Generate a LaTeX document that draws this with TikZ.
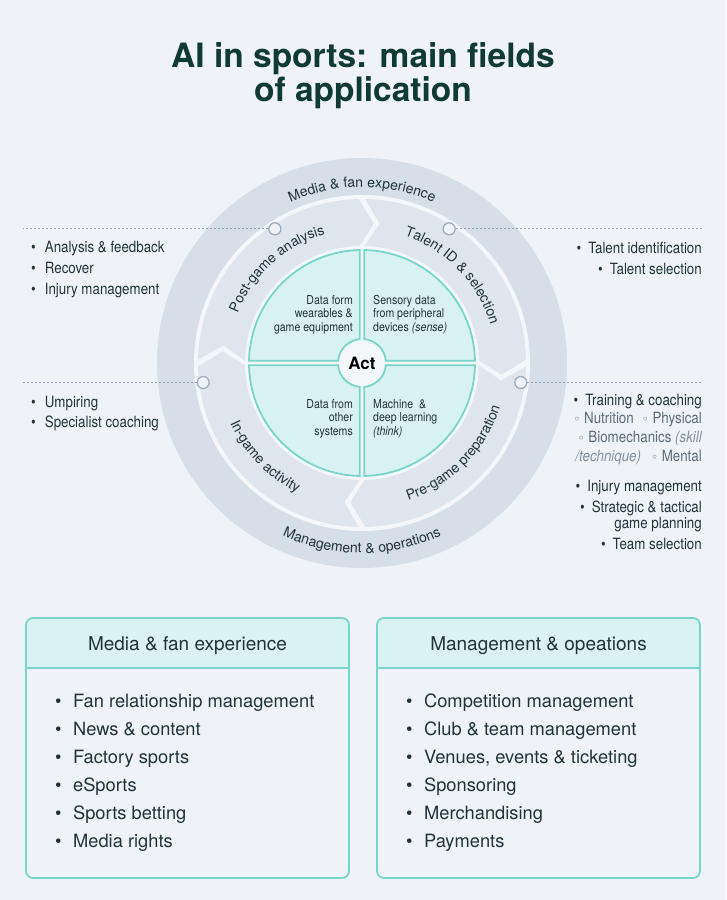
\documentclass[tikz,border=0pt]{standalone}
\usepackage{fontspec}
\setmainfont{TeX Gyre Heros}
\newfontfamily\narrowfont{TeX Gyre Heros}[FakeStretch=0.86]
\newfontfamily\symfont{DejaVu Sans}
\usetikzlibrary{calc, decorations.text}

\definecolor{pagebg}{RGB}{239,243,248}
\definecolor{bandgrey}{RGB}{214,222,231}
\definecolor{ringgrey}{RGB}{223,229,237}
\definecolor{gapwhite}{RGB}{244,247,250}
\definecolor{tealfill}{RGB}{216,242,241}
\definecolor{tealline}{RGB}{120,213,201}
\definecolor{headfill}{RGB}{216,243,241}
\definecolor{inkdark}{RGB}{32,52,56}
\definecolor{titleink}{RGB}{16,58,52}
\definecolor{subgrey}{RGB}{92,108,118}
\definecolor{softgrey}{RGB}{130,144,156}
\definecolor{dotgrey}{RGB}{150,166,182}
\definecolor{pingrey}{RGB}{160,174,188}

\newcommand\titlesize{\fontsize{33.5}{38}\selectfont\bfseries}
\newcommand\listsize{\narrowfont\fontsize{15.5}{18}\selectfont}
\newcommand\quadsize{\narrowfont\fontsize{12.3}{13.6}\selectfont}
\newcommand\ringsize{\fontsize{14}{16}\selectfont}
\newcommand\boxsize{\fontsize{18.3}{22}\selectfont}
\newcommand\subdot{{\symfont\fontsize{12}{12}\selectfont ◦}}

\tikzset{
    titletext/.style={font=\titlesize, text=titleink, anchor=base, inner sep=0pt},
    listtext/.style={font=\listsize, text=inkdark, inner sep=0pt},
    subtext/.style={font=\listsize, text=subgrey, inner sep=0pt, anchor=base east},
    quadtext/.style={font=\quadsize, text=inkdark, inner sep=0pt},
    boxitem/.style={font=\boxsize, text=inkdark, inner sep=0pt, anchor=base west},
    headtext/.style={font=\fontsize{19}{22}\selectfont, text=inkdark, inner sep=0pt,
        anchor=base},
    pin/.style={circle, draw=pingrey, fill=pagebg, line width=1.3pt,
        minimum size=12pt, inner sep=0pt},
    dotline/.style={draw=dotgrey, line width=0.9pt, dash pattern=on 2pt off 2pt},
    quadrant/.style={fill=tealfill, draw=tealline, line width=1.8pt},
    actdisc/.style={circle, fill=gapwhite, minimum size=40pt, inner sep=0pt,
        font=\fontsize{17}{17}\selectfont\bfseries, text=black},
    ringlabel/.style={decorate, decoration={text along path, text align=center,
        text color=inkdark, text={|\ringsize|#1}}},
    panel/.style={draw=tealline, line width=1.8pt, rounded corners=7pt},
}

\begin{document}
\begin{tikzpicture}[x=1pt, y=1pt]
\fill[pagebg] (0,0) rectangle (726,-900);
\useasboundingbox (0,0) rectangle (726,-900);

% title
\node[titletext] (title1) at (363,-67) {AI in sports: main fields};
\node[titletext] (title2) at (363,-101) {of application};

% wheel
\coordinate (hub) at (362,-363);
\coordinate (leftedge) at (23,0);
\coordinate (rightedge) at (702,0);
\fill[bandgrey] (hub) circle (205);
\fill[gapwhite] (hub) circle (168);
\begin{scope}[shift={(hub)}]
    \foreach \s in {90,0,-90,-180}
        \fill[ringgrey] (\s-1.2:164) arc[start angle=\s-1.2, end angle=\s-88.8, radius=164]
            -- (\s-94.8:140) -- (\s-88.8:117)
            arc[start angle=\s-88.8, end angle=\s-1.2, radius=117]
            -- (\s-7.2:140) -- cycle;
    \fill[gapwhite] (0,0) circle (116);
    \foreach \q in {0,90,180,270}
        \filldraw[quadrant] (\q+88.88:113) arc[start angle=\q+88.88, end angle=\q+1.12, radius=113]
            -- (\q+5.26:24) arc[start angle=\q+5.26, end angle=\q+84.74, radius=24] -- cycle;
    \node[actdisc] (act) at (0,0) {Act};

    % ring texts
    \path[ringlabel={Media {\&} fan experience}]
        (150:176) arc[start angle=150, end angle=30, radius=176];
    \path[ringlabel={Management {\&} operations}]
        (220:190) arc[start angle=220, end angle=320, radius=190];
    \path[ringlabel={Post-game analysis}]
        (182:134) arc[start angle=182, end angle=82, radius=134];
    \path[ringlabel={Talent ID {\&} selection}]
        (94:134) arc[start angle=94, end angle=-6, radius=134];
    \path[ringlabel={Pre-game preparation}]
        (-94.5:145) arc[start angle=-94.5, end angle=5.5, radius=145];
    \path[ringlabel={In-game activity}]
        (174:145) arc[start angle=174, end angle=274, radius=145];

    \node[pin] (postpin) at (123:160) {};
    \node[pin] (talentpin) at (57:160) {};
    \node[pin] (ingamepin) at (187:160) {};
    \node[pin] (pregamepin) at (-7:160) {};
\end{scope}

% quadrant texts
\node[quadtext, anchor=north east, align=right] (wearables) at (353,-295)
    {Data form\\wearables \&\\game equipment};
\node[quadtext, anchor=north west, align=left] (sensory) at (373,-295)
    {Sensory data\\from peripheral\\devices \textit{(sense)}};
\node[quadtext, anchor=north east, align=right] (othersys) at (353,-399)
    {Data from\\other\\systems};
\node[quadtext, anchor=north west, align=left] (learning) at (373,-399)
    {Machine\ \ \&\\deep learning\\\textit{(think)}};

% dotted leaders
\draw[dotline] (postpin.west) -- (postpin.west -| leftedge);
\draw[dotline] (ingamepin.west) -- (ingamepin.west -| leftedge);
\draw[dotline] (talentpin.east) -- (talentpin.east -| rightedge);
\draw[dotline] (pregamepin.east) -- (pregamepin.east -| rightedge);

% side lists
\foreach \txt [count=\i] in {Analysis \& feedback, Recover, Injury management}
    \node[listtext, anchor=base west] (post\i) at (31,{-252-21*(\i-1)})
        {\textbullet\hspace{9pt}\txt};
\foreach \txt [count=\i] in {Umpiring, Specialist coaching}
    \node[listtext, anchor=base west] (ingame\i) at (31,{-407-20.6*(\i-1)})
        {\textbullet\hspace{9pt}\txt};
\node[listtext, anchor=base east] (talent1) at (702,-253)
    {\textbullet\hspace{7pt}Talent identification};
\node[listtext, anchor=base east] (talent2) at (702,-274)
    {\textbullet\hspace{7pt}Talent selection};
\node[listtext, anchor=base east] (prep1) at (702,-405)
    {\textbullet\hspace{7pt}Training \& coaching};
\node[subtext] (prep2) at (702,-423)
    {\subdot\ Nutrition\hspace{8pt}\subdot\ Physical};
\node[subtext] (prep3) at (702,-442)
    {\subdot\ Biomechanics {\color{softgrey}\itshape(skill}};
\node[subtext] (prep4) at (702,-461)
    {{\color{softgrey}\itshape/technique)}\hspace{10pt}\subdot\ Mental};
\node[listtext, anchor=base east] (prep5) at (702,-491)
    {\textbullet\hspace{7pt}Injury management};
\node[listtext, anchor=base east] (prep6) at (702,-512)
    {\textbullet\hspace{7pt}Strategic \& tactical};
\node[listtext, anchor=base east] (prep7) at (702,-528) {game planning};
\node[listtext, anchor=base east] (prep8) at (702,-549)
    {\textbullet\hspace{7pt}Team selection};

% bottom panels
\foreach \bx in {26,377} {
    \begin{scope}
        \clip[rounded corners=7pt] (\bx,-618) rectangle (\bx+323,-878);
        \fill[headfill] (\bx,-618) rectangle (\bx+323,-668);
    \end{scope}
    \draw[tealline, line width=1.8pt] (\bx,-668) -- (\bx+323,-668);
    \draw[panel] (\bx,-618) rectangle (\bx+323,-878);
}
\node[headtext] (mediahead) at (187.5,-650) {Media \& fan experience};
\node[headtext] (managehead) at (538.5,-650) {Management \& opeations};
\foreach \txt [count=\i] in {Fan relationship management, News \& content,
    Factory sports, eSports, Sports betting, Media rights}
    \node[boxitem] (media\i) at (55,{-707-28.1*(\i-1)}) {\textbullet\hspace{11.5pt}\txt};
\foreach \txt [count=\i] in {Competition management, Club \& team management,
    Venues{,} events \& ticketing, Sponsoring, Merchandising, Payments}
    \node[boxitem] (manage\i) at (406,{-707-28.1*(\i-1)}) {\textbullet\hspace{11.5pt}\txt};
\end{tikzpicture}
\end{document}
